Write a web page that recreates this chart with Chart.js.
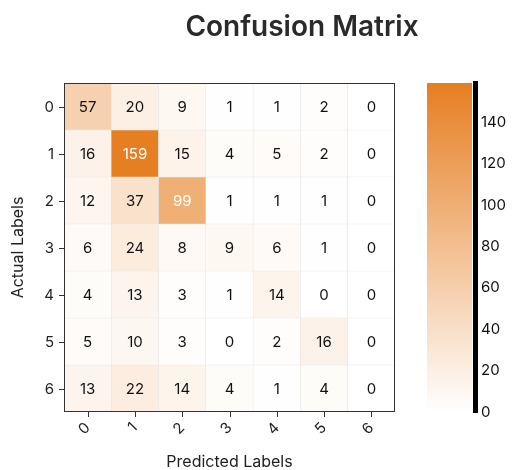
<!DOCTYPE html>
<html><head><meta charset="utf-8">
<script src="https://cdn.jsdelivr.net/npm/chart.js@4/dist/chart.umd.min.js"></script>
<style>html,body{margin:0;padding:0;background:#fff}#wrap{width:514px;height:470px;position:relative}</style>
</head><body><div id="wrap"><canvas id="c" width="514" height="470"></canvas></div>
<script>
// ---- data ----
const predictedLabels = ['0', '1', '2', '3', '4', '5', '6'];
const actualLabels = ['0', '1', '2', '3', '4', '5', '6'];
const row0 = [57, 20, 9, 1, 1, 2, 0];
const row1 = [16, 159, 15, 4, 5, 2, 0];
const row2 = [12, 37, 99, 1, 1, 1, 0];
const row3 = [6, 24, 8, 9, 6, 1, 0];
const row4 = [4, 13, 3, 1, 14, 0, 0];
const row5 = [5, 10, 3, 0, 2, 16, 0];
const row6 = [13, 22, 14, 4, 1, 4, 0];
const colorbarTicks = [0, 20, 40, 60, 80, 100, 120, 140];
const titleText = 'Confusion Matrix';
const xTitleText = 'Predicted Labels';
const yTitleText = 'Actual Labels';

const rows = [row0, row1, row2, row3, row4, row5, row6];
const maxCount = Math.max(...rows.flat());
const lowRGB = [255, 255, 255];
const highRGB = [230, 126, 34];
function cellColor(v) {
  const t = v / maxCount;
  const c = lowRGB.map((l, i) => Math.round(l + (highRGB[i] - l) * t));
  return 'rgb(' + c.join(',') + ')';
}

const FONT = 'Inter, "Liberation Sans", Arial, sans-serif';
Chart.defaults.font.family = FONT;
Chart.defaults.color = '#222';

const datasets = rows.map((row, r) => ({
  label: actualLabels[r],
  data: row.map((v, c) => ({ x: predictedLabels[c], y: [r - 0.5, r + 0.5], v: v })),
  backgroundColor: row.map(cellColor),
  borderColor: '#e3e3e3',
  borderWidth: 0.5,
  borderSkipped: false,
  grouped: false,
  barPercentage: 1,
  categoryPercentage: 1,
  xAxisID: 'x',
  yAxisID: 'y'
}));

const cellTextPlugin = {
  id: 'cellText',
  afterDatasetsDraw(chart) {
    const ctx = chart.ctx;
    ctx.save();
    ctx.font = '15px ' + FONT;
    ctx.textAlign = 'center';
    ctx.textBaseline = 'middle';
    chart.data.datasets.forEach((ds, i) => {
      const meta = chart.getDatasetMeta(i);
      meta.data.forEach((el, j) => {
        const p = el.getProps(['x', 'y', 'base'], true);
        const v = ds.data[j].v;
        ctx.fillStyle = v > maxCount * 0.5 ? '#ffffff' : '#111111';
        ctx.fillText(String(v), p.x, (p.y + p.base) / 2 + 1);
      });
    });
    ctx.restore();
  },
  afterDraw(chart) {
    const ctx = chart.ctx;
    ctx.save();
    const a = chart.chartArea;
    const L = Math.round(a.left) + 0.5, T = Math.round(a.top) + 0.5;
    const R = Math.round(a.right) - 0.5, B = Math.round(a.bottom) - 0.5;
    ctx.strokeStyle = '#333';
    ctx.lineWidth = 1;
    ctx.strokeRect(L, T, R - L, B - T);
    // tick marks at cell centres
    const xs = chart.scales.x, ys = chart.scales.y;
    ctx.beginPath();
    for (let i = 0; i < xs.ticks.length; i++) {
      const px = Math.round(xs.getPixelForValue(i)) + 0.5;
      ctx.moveTo(px, B); ctx.lineTo(px, B + 5.5);
    }
    for (let i = 0; i < ys.ticks.length; i++) {
      const py = Math.round(ys.getPixelForValue(ys.ticks[i].value)) + 0.5;
      ctx.moveTo(L, py); ctx.lineTo(L - 5.5, py);
    }
    ctx.stroke();
    ctx.restore();
  }
};

const colorbarPlugin = {
  id: 'colorbar',
  beforeDatasetsDraw(chart) {
    const cb = chart.scales.cb;
    const ctx = chart.ctx;
    const yTop = cb.getPixelForValue(maxCount);
    const yBot = cb.getPixelForValue(0);
    const x0 = chart.chartArea.right + 32;
    const x1 = cb.left - 3;
    const g = ctx.createLinearGradient(0, yBot, 0, yTop);
    g.addColorStop(0, cellColor(0));
    g.addColorStop(1, cellColor(maxCount));
    ctx.save();
    ctx.fillStyle = g;
    ctx.fillRect(x0, yTop, x1 - x0, yBot - yTop);
    ctx.restore();
  }
};

const titlePlugin = {
  id: 'mainTitle',
  afterDraw(chart) {
    const ctx = chart.ctx;
    ctx.save();
    ctx.font = '600 28px ' + FONT;
    ctx.fillStyle = '#2a2a2a';
    ctx.textAlign = 'center';
    ctx.textBaseline = 'alphabetic';
    ctx.fillText(titleText, 302, 36);
    ctx.restore();
  }
};

new Chart(document.getElementById('c'), {
  type: 'bar',
  data: { labels: predictedLabels, datasets: datasets },
  options: {
    responsive: false,
    maintainAspectRatio: false,
    animation: false,
    layout: { padding: { top: 83, left: 5.5, right: 0, bottom: 0 } },
    plugins: { legend: { display: false }, tooltip: { enabled: false }, title: { display: false } },
    scales: {
      x: {
        type: 'category',
        labels: predictedLabels,
        offset: true,
        position: 'bottom',
        grid: { display: false, drawOnChartArea: false, drawTicks: true, tickLength: 5, offset: false },
        border: { display: false },
        ticks: { font: { size: 15 }, color: '#222', minRotation: 45, maxRotation: 45, padding: 2, autoSkip: false },
        title: { display: true, text: xTitleText, font: { size: 16, lineHeight: 1 }, color: '#222', padding: 0 },
        afterFit: s => { s.height = 58; }
      },
      y: {
        type: 'linear',
        position: 'left',
        min: -0.5,
        max: 6.5,
        reverse: true,
        afterBuildTicks: s => { s.ticks = actualLabels.map((l, i) => ({ value: i })); },
        ticks: { font: { size: 15 }, color: '#222', padding: 5, labelOffset: 1, callback: (v, i) => actualLabels[i] },
        grid: { display: false, drawOnChartArea: false, drawTicks: true, tickLength: 5 },
        border: { display: false },
        title: { display: true, text: yTitleText, font: { size: 16 }, color: '#222', padding: { top: 3, bottom: 0 } },
        afterFit: s => { s.width = 58.5; }
      },
      sp: {
        type: 'linear',
        position: 'right',
        display: true,
        weight: 1,
        ticks: { display: false },
        grid: { display: false },
        border: { display: false },
        afterFit: s => { s.width = 80; }
      },
      cb: {
        type: 'linear',
        position: 'right',
        display: true,
        weight: 2,
        min: 0,
        max: maxCount,
        afterBuildTicks: s => { s.ticks = colorbarTicks.map(v => ({ value: v })); },
        ticks: { font: { size: 15 }, color: '#111', padding: 6 },
        grid: { display: true, drawOnChartArea: false, drawTicks: false },
        border: { display: true, color: '#000', width: 5 },
        afterFit: s => { s.width = 39; }
      }
    }
  },
  plugins: [colorbarPlugin, cellTextPlugin, titlePlugin]
});
</script>
</body></html>
